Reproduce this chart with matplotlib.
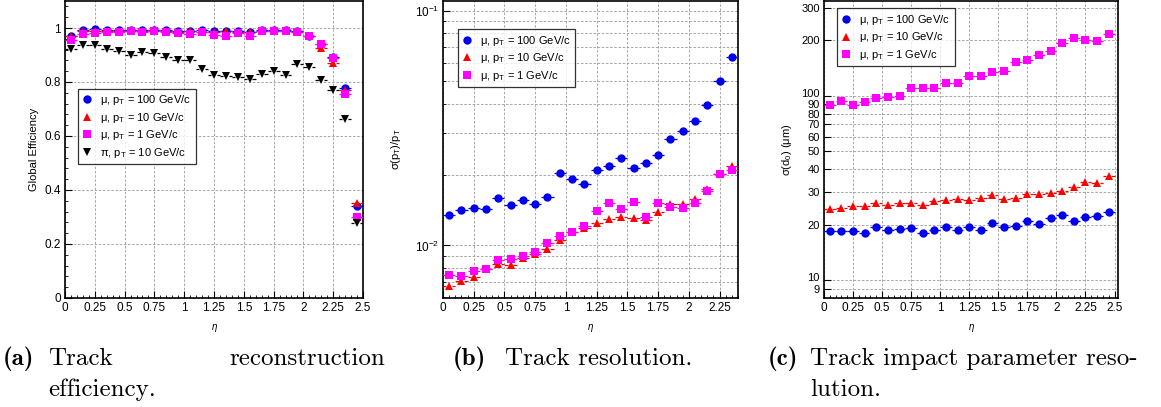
import numpy as np
import matplotlib

matplotlib.use("Agg")
import matplotlib.pyplot as plt
import matplotlib.transforms as mtransforms
from matplotlib.ticker import MultipleLocator, FixedLocator, NullFormatter, LogLocator

plt.rcParams["font.family"] = ["Liberation Sans", "DejaVu Sans"]
plt.rcParams["mathtext.fontset"] = "custom"
plt.rcParams["mathtext.rm"] = "Liberation Sans"
plt.rcParams["mathtext.it"] = "Liberation Sans:italic"

# eta bin centres (bin width 0.1)
ETA = np.arange(25) * 0.1 + 0.05
ETA_B = ETA[:24]

# (a) global efficiency
EFF_MU100 = [0.969, 0.994, 0.996, 0.994, 0.994, 0.994, 0.994, 0.991, 0.991, 0.989,
             0.989, 0.991, 0.989, 0.989, 0.989, 0.987, 0.994, 0.994, 0.994, 0.989,
             0.972, 0.942, 0.893, 0.778, 0.341]
EFF_MU10 = [0.972, 0.989, 0.989, 0.989, 0.989, 0.989, 0.989, 0.991, 0.989, 0.987,
            0.990, 0.987, 0.987, 0.989, 0.987, 0.987, 0.989, 0.989, 0.989, 0.987,
            0.972, 0.925, 0.872, 0.772, 0.351]
EFF_MU1 = [0.954, 0.979, 0.982, 0.986, 0.985, 0.989, 0.985, 0.989, 0.985, 0.982,
           0.977, 0.985, 0.974, 0.969, 0.983, 0.969, 0.988, 0.988, 0.988, 0.985,
           0.969, 0.940, 0.890, 0.755, 0.299]
EFF_PI10 = [0.922, 0.938, 0.938, 0.921, 0.914, 0.901, 0.910, 0.909, 0.893, 0.883,
            0.883, 0.849, 0.825, 0.821, 0.819, 0.812, 0.831, 0.839, 0.826, 0.868,
            0.856, 0.807, 0.770, 0.664, 0.278]

# (b) sigma(pT)/pT
RES_MU100 = [0.01354, 0.01416, 0.01450, 0.01436, 0.01593, 0.01493, 0.01563, 0.01502,
             0.01604, 0.02034, 0.01924, 0.01827, 0.02095, 0.02186, 0.02355, 0.02143,
             0.02235, 0.02425, 0.02827, 0.03085, 0.03390, 0.03979, 0.05012, 0.06339]
RES_MU10 = [0.00672, 0.00703, 0.00734, 0.00794, 0.00833, 0.00822, 0.00884, 0.00916,
            0.00962, 0.01057, 0.01143, 0.01192, 0.01248, 0.01302, 0.01319, 0.01306,
            0.01289, 0.01389, 0.01507, 0.01507, 0.01573, 0.01733, 0.02008, 0.02178]
RES_MU1 = [0.00751, 0.00744, 0.00778, 0.00794, 0.00867, 0.00873, 0.00904, 0.00940,
           0.01020, 0.01095, 0.01139, 0.01208, 0.01399, 0.01521, 0.01436, 0.01537,
           0.01328, 0.01517, 0.01455, 0.01440, 0.01513, 0.01700, 0.02008, 0.02088]

# (c) sigma(d0) in micrometres
D0_MU100 = [18.4, 18.4, 18.4, 18.0, 19.5, 18.7, 19.0, 19.2, 17.9, 18.7,
            19.3, 18.6, 19.3, 18.7, 20.5, 19.4, 19.7, 20.8, 20.1, 21.6,
            22.6, 20.9, 21.9, 22.2, 23.3]
D0_MU10 = [24.2, 24.7, 25.2, 25.2, 26.2, 25.7, 26.1, 26.1, 25.7, 27.0,
           27.3, 27.4, 27.3, 27.9, 28.9, 27.6, 28.0, 29.4, 29.2, 29.8,
           30.6, 31.8, 33.9, 33.8, 36.8]
D0_MU1 = [89.0, 93.6, 88.7, 92.0, 96.7, 98.8, 99.6, 109.6, 110.5, 110.5,
          117.6, 117.6, 127.7, 127.2, 134.8, 135.4, 152.1, 155.2, 165.9, 175.1,
          192.6, 205.0, 200.0, 198.3, 214.6]
D0_TICKS = [9, 10, 20, 30, 40, 50, 60, 70, 80, 90, 100, 200, 300]

LABELS = [r"μ, p$_{\rm T}$ = 100 GeV/c", r"μ, p$_{\rm T}$ = 10 GeV/c",
          r"μ, p$_{\rm T}$ = 1 GeV/c", r"π, p$_{\rm T}$ = 10 GeV/c"]
STYLES = [("o", "#0000ee", 6.0), ("^", "#ff0000", 5.8), ("s", "#ff00ff", 6.3), ("v", "#000000", 5.8)]

HALF_BIN = 0.05
GAP = 0.022
GRID = dict(color="#999999", ls=(0, (3, 2)), lw=0.6)


def draw_series(ax, x, y, style, label):
    marker, color, size = style
    x = np.asarray(x)
    y = np.asarray(y)
    # horizontal bin-width bars, broken around the marker
    ax.hlines(y, x - HALF_BIN, x - GAP, color=color, lw=0.9, zorder=3)
    ax.hlines(y, x + GAP, x + HALF_BIN, color=color, lw=0.9, zorder=3)
    ax.plot(x, y, ls="none", marker=marker, color=color, ms=size, mew=0,
            label=label, zorder=4)


def style_axes(ax):
    ax.grid(True, which="major", **GRID)
    ax.tick_params(which="both", direction="in", top=False, right=False,
                   labelsize=8.5, pad=3)
    ax.tick_params(which="major", length=5)
    ax.tick_params(which="minor", length=2.5)
    ax.xaxis.set_minor_locator(MultipleLocator(0.05))
    ax.set_xticks([0, 0.25, 0.5, 0.75, 1, 1.25, 1.5, 1.75, 2, 2.25, 2.5])
    ax.set_xticklabels(["0", "0.25", "0.5", "0.75", "1", "1.25", "1.5",
                        "1.75", "2", "2.25", "2.5"])
    for s in ax.spines.values():
        s.set_linewidth(1.2)
    ax.set_xlabel(r"$\eta$", fontsize=7, labelpad=6)


def add_legend(ax, loc):
    leg = ax.legend(loc="upper left", bbox_to_anchor=loc, fontsize=8,
                    frameon=True, fancybox=False, edgecolor="black",
                    handlelength=0.8, handletextpad=0.8, borderpad=0.4,
                    labelspacing=0.32, borderaxespad=0)
    leg.get_frame().set_linewidth(0.9)
    return leg


fig = plt.figure(figsize=(11.61, 4.07), dpi=100)

# (a) efficiency
ax1 = fig.add_axes([65 / 1161, 109 / 407, 298 / 1161, 297 / 407])
for y, st, lab in zip([EFF_MU100, EFF_MU10, EFF_MU1, EFF_PI10], STYLES, LABELS):
    draw_series(ax1, ETA, y, st, lab)
style_axes(ax1)
ax1.set_xlim(0, 2.5)
ax1.set_ylim(0, 1.1)
ax1.set_yticks([0, 0.2, 0.4, 0.6, 0.8, 1.0])
ax1.set_yticklabels(["0", "0.2", "0.4", "0.6", "0.8", "1"])
ax1.yaxis.set_minor_locator(MultipleLocator(0.04))
ax1.set_ylabel("Global Efficiency", fontsize=8, labelpad=4)
add_legend(ax1, (0.044, 0.705))

# (b) momentum resolution
ax2 = fig.add_axes([443 / 1161, 109 / 407, 295 / 1161, 297 / 407])
for y, st, lab in zip([RES_MU100, RES_MU10, RES_MU1], STYLES, LABELS):
    draw_series(ax2, ETA_B, y, st, lab)
ax2.set_yscale("log")
style_axes(ax2)
ax2.set_xlim(0, 2.4)
ax2.set_xticks([0, 0.25, 0.5, 0.75, 1, 1.25, 1.5, 1.75, 2, 2.25])
ax2.set_xticklabels(["0", "0.25", "0.5", "0.75", "1", "1.25", "1.5", "1.75", "2", "2.25"])
ax2.set_ylim(0.00597, 0.11)
ax2.yaxis.set_major_locator(LogLocator(base=10))
ax2.yaxis.set_minor_locator(LogLocator(base=10, subs=np.arange(2, 10)))
ax2.yaxis.set_minor_formatter(NullFormatter())
ax2.grid(True, which="minor", axis="y", **GRID)
ax2.set_ylabel(r"σ(p$_{\rm T}$)/p$_{\rm T}$", fontsize=8, labelpad=8)
add_legend(ax2, (0.05, 0.905))

# (c) impact parameter resolution
ax3 = fig.add_axes([824 / 1161, 109 / 407, 294 / 1161, 297 / 407])
for y, st, lab in zip([D0_MU100, D0_MU10, D0_MU1], STYLES, LABELS):
    draw_series(ax3, ETA, y, st, lab)
ax3.set_yscale("log")
style_axes(ax3)
ax3.set_xlim(0, 2.53)
ax3.set_ylim(8.0, 326)
ax3.yaxis.set_major_locator(FixedLocator(D0_TICKS))
ax3.yaxis.set_minor_locator(FixedLocator([]))
ax3.set_yticklabels([str(v) for v in D0_TICKS])
ax3.yaxis.set_minor_formatter(NullFormatter())
ax3.tick_params(axis="y", labelsize=8)
# 10 and 100 sit right on top of 9 and 90; lift them a touch
for lab in ax3.get_yticklabels():
    if lab.get_text() in ("10", "100"):
        lab.set_transform(lab.get_transform() +
                          mtransforms.ScaledTranslation(0, 2.2 / 72, fig.dpi_scale_trans))
ax3.set_ylabel("σ(d$_0$) (μm)", fontsize=8, labelpad=5)
add_legend(ax3, (0.045, 0.975))

# sub-figure captions
cap = dict(fontsize=18, va="baseline")
bold = dict(family="cmb10", **cap)
roman = dict(family="cmr10", **cap)
y1 = 1 - 365 / 407
y2 = 1 - 396 / 407
fig.text(3 / 1161, y1, "(a)", **bold)
fig.text(48 / 1161, y1, "Track", **roman)
fig.text(385 / 1161, y1, "reconstruction", ha="right", **roman)
fig.text(48 / 1161, y2, "efficiency.", **roman)
fig.text(453 / 1161, y1, "(b)", **bold)
fig.text(505 / 1161, y1, "Track resolution.", **roman)
fig.text(768 / 1161, y1, "(c)", **bold)
fig.text(810 / 1161, y1, "Track impact parameter reso-", **roman)
fig.text(810 / 1161, y2, "lution.", **roman)

fig.savefig("out.png", dpi=100)
